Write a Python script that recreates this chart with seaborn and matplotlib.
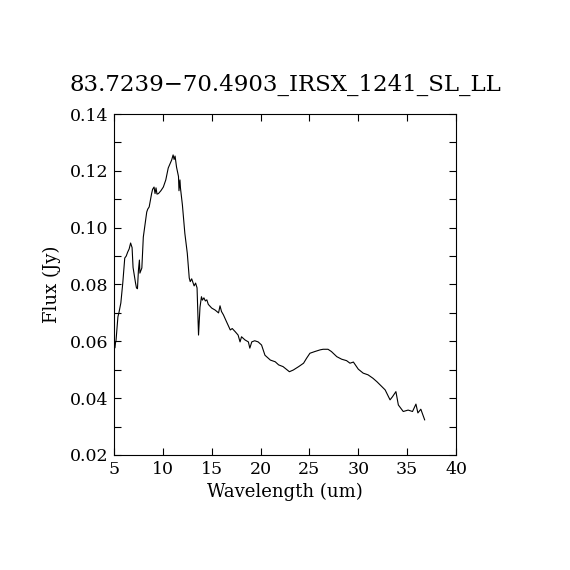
import numpy as np
import pandas as pd
import seaborn as sns
import matplotlib.pyplot as plt
from matplotlib.ticker import MultipleLocator

# spectrum
wavelength = [5.1, 5.15, 5.2, 5.4, 5.5, 5.7, 5.9, 6.1, 6.25, 6.4, 6.55, 6.7, 6.8,
              6.85, 6.95, 7.2, 7.3, 7.4, 7.5, 7.6, 7.65, 7.85, 8.0, 8.35, 8.45,
              8.6, 8.85, 8.95, 9.1, 9.2, 9.3, 9.4, 9.55, 9.8, 10.05, 10.3, 10.55,
              10.9, 11.05, 11.15, 11.25, 11.4, 11.6, 11.65, 11.75, 11.8, 12.0,
              12.25, 12.5, 12.7, 12.8, 12.95, 13.1, 13.2, 13.35, 13.5, 13.65,
              13.8, 13.95, 14.05, 14.2, 14.35, 14.5, 14.65, 15.0, 15.35, 15.7,
              15.85, 16.0, 16.2, 16.5, 16.9, 17.1, 17.4, 17.7, 17.9, 18.05, 18.4,
              18.75, 18.9, 19.1, 19.4, 19.75, 20.1, 20.45, 21.0, 21.5, 21.85,
              22.3, 22.95, 23.35, 23.9, 24.4, 24.7, 25.05, 25.55, 26.1, 26.4,
              26.9, 27.25, 27.8, 28.3, 28.8, 29.15, 29.5, 30.0, 30.5, 31.0,
              31.5, 31.9, 32.4, 32.75, 33.25, 33.5, 33.85, 34.1, 34.6, 35.1,
              35.55, 35.9, 36.1, 36.4, 36.8]
flux = [0.0577, 0.0595, 0.0600, 0.0686, 0.0700, 0.0735, 0.0806, 0.0893, 0.0900,
        0.0914, 0.0925, 0.0946, 0.0935, 0.0930, 0.0860, 0.0806, 0.0788, 0.0785,
        0.0850, 0.0886, 0.0840, 0.0858, 0.0967, 0.1055, 0.1065, 0.1073, 0.1120,
        0.1135, 0.1143, 0.1120, 0.1140, 0.1118, 0.1120, 0.1130, 0.1143, 0.1168,
        0.1210, 0.1238, 0.1256, 0.1240, 0.1252, 0.1213, 0.1180, 0.1130, 0.1168,
        0.1140, 0.1080, 0.0980, 0.0910, 0.0823, 0.0810, 0.0820, 0.0805, 0.0795,
        0.0805, 0.0788, 0.0622, 0.0720, 0.0757, 0.0745, 0.0753, 0.0742, 0.0746,
        0.0730, 0.0717, 0.0710, 0.0700, 0.0725, 0.0705, 0.0693, 0.0670, 0.0640,
        0.0645, 0.0634, 0.0622, 0.0598, 0.0616, 0.0605, 0.0598, 0.0576, 0.0598,
        0.0602, 0.0598, 0.0587, 0.0551, 0.0534, 0.0528, 0.0517, 0.0511, 0.0493,
        0.0499, 0.0511, 0.0523, 0.0540, 0.0558, 0.0564, 0.0570, 0.0572, 0.0572,
        0.0564, 0.0546, 0.0537, 0.0532, 0.0523, 0.0527, 0.0502, 0.0488, 0.0482,
        0.0470, 0.0458, 0.0441, 0.0429, 0.0394, 0.0405, 0.0423, 0.0376, 0.0353,
        0.0358, 0.0353, 0.0379, 0.0348, 0.0361, 0.0323]

title = "83.7239\u221270.4903_IRSX_1241_SL_LL"

sns.set_style("ticks")
plt.rcParams['font.family'] = ['DejaVu Serif']
plt.rcParams['text.color'] = 'black'
plt.rcParams['axes.labelcolor'] = 'black'

df = pd.DataFrame({'wavelength': wavelength, 'flux': flux})

fig = plt.figure(figsize=(5.7, 5.7), dpi=100)
ax = fig.add_axes([0.2, 0.2018, 0.6, 0.5982])
sns.lineplot(data=df, x='wavelength', y='flux', color='black', linewidth=0.8,
             sort=False, ax=ax)

ax.set_xlim(5, 40)
ax.set_ylim(0.02, 0.14)
ax.xaxis.set_major_locator(MultipleLocator(5))
ax.yaxis.set_major_locator(MultipleLocator(0.02))
ax.yaxis.set_minor_locator(MultipleLocator(0.01))
ax.yaxis.set_major_formatter(plt.FuncFormatter(lambda v, p: f"{v:.2f}"))
ax.tick_params(which='both', direction='in', length=5, width=0.8,
               top=True, right=True, labelsize=12.5, pad=4, colors='black')
for s in ax.spines.values():
    s.set_linewidth(0.8)
    s.set_color('black')

ax.set_xlabel("Wavelength (um)", fontsize=13, labelpad=4, color='black')
ax.set_ylabel("Flux (Jy)", fontsize=13, labelpad=6, color='black')
ax.set_title(title, fontsize=16.5, pad=17, color='black')

fig.savefig('out.png', dpi=100, facecolor='white')
plt.close(fig)
